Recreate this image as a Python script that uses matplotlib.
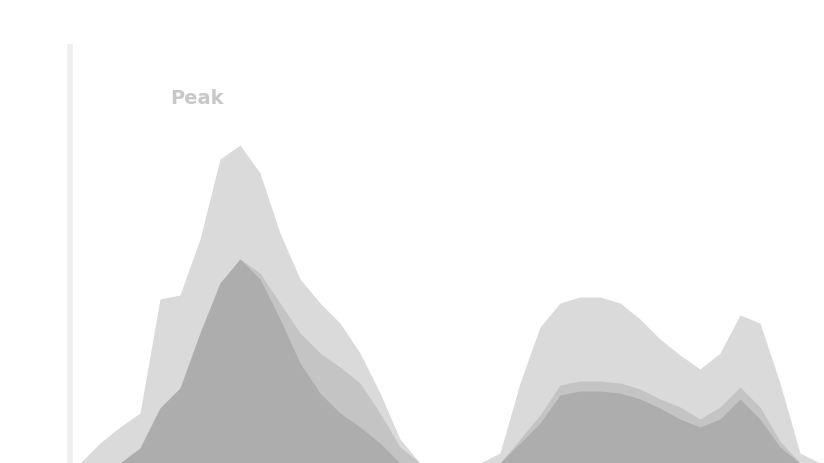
import matplotlib.pyplot as plt
import numpy as np

# weekly samples, three overlapping series (light = total, mid, dark = core)
weeks = np.arange(42)
total = [0, 0, 0, 0, 0, 5, 9, 12.5, 41, 42, 56, 76, 79.5, 72.5, 57.5, 46, 40, 35, 27.5, 17.5, 6,
         0, 0, 0, 0, 2.5, 20, 34, 40, 41.5, 41.5, 40, 36, 31, 27, 23.5, 27.5, 37, 35, 20, 2.5, 0]
mid = [0, 0, 0, 0, 0, 0, 0, 3.75, 13.75, 18.75, 32.5, 45, 51, 47.5, 40, 32.5, 27.5, 24, 20, 12.5, 4,
       0, 0, 0, 0, 0, 6, 12, 19.5, 20.5, 20.5, 20, 18.5, 16, 14, 11, 14, 19, 14, 5.5, 0, 0]
core = [0, 0, 0, 0, 0, 0, 0, 3.75, 13.75, 18.75, 32.5, 45, 51, 46, 36, 25, 17.5, 12.5, 9, 5, 0,
        0, 0, 0, 0, 0, 5, 10, 17, 18, 18, 17.5, 16, 13.75, 11, 9, 11, 16, 11, 4, 0, 0]
label = "Peak"
label_week = 9.85
label_value = 91.5
axis_week = 3.5
axis_top = 104.75

fig = plt.figure(figsize=(8.24, 4.64), dpi=100)
ax = fig.add_axes([0, 0, 1, 1])
ax.fill_between(weeks, 0, total, color="#dadada", lw=0)
ax.fill_between(weeks, 0, mid, color="#c4c4c4", lw=0)
ax.fill_between(weeks, 0, core, color="#adadad", lw=0)
ax.vlines(axis_week, 0, axis_top, color="#efefef", lw=4)
ax.text(label_week, label_value, label, ha="center", va="center",
        fontsize=14, fontweight="bold", color="#c8c8c8")

ax.set_xlim(0, 41.2)
ax.set_ylim(0, 116)
ax.axis("off")

plt.savefig("out.png", dpi=100)
